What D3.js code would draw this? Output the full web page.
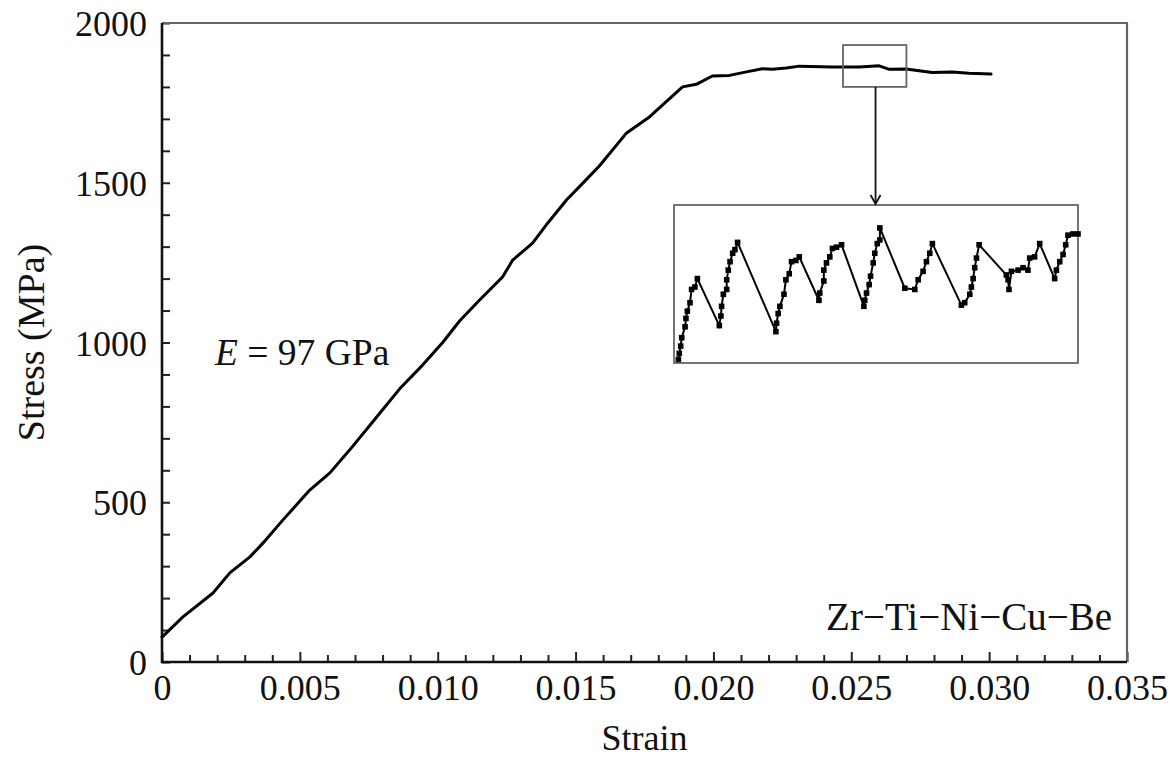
<!DOCTYPE html>
<html>
<head>
<meta charset="utf-8">
<script src="https://cdn.jsdelivr.net/npm/d3@7/dist/d3.min.js"></script>
<style>
  html, body { margin: 0; padding: 0; background: #fff; }
  svg { display: block; }
  text { font-family: "Liberation Serif", "Times New Roman", serif; fill: #111; }
</style>
</head>
<body>
<svg id="chart" width="1174" height="760"></svg>
<script>
// ---- Data ----
const strain = [0, 0.00076, 0.00185, 0.00246, 0.00319, 0.00366, 0.00438, 0.00536, 0.00609, 0.00681,
  0.00772, 0.00862, 0.00946, 0.01018, 0.0108, 0.01152, 0.01235, 0.01272, 0.01344, 0.01400, 0.01467,
  0.01530, 0.01587, 0.01685, 0.01768, 0.01888, 0.01938, 0.01996, 0.02058, 0.0212, 0.02177, 0.02214,
  0.02264, 0.02312, 0.02431, 0.02529, 0.02601, 0.02638, 0.02699, 0.02793, 0.02866, 0.02927, 0.03007];
const stress = [78, 141, 216, 279, 329, 372, 444, 538, 592, 664,
  760, 855, 930, 1000, 1068, 1133, 1205, 1258, 1311, 1375, 1446,
  1502, 1553, 1656, 1706, 1800, 1808, 1834, 1836, 1847, 1857, 1855,
  1859, 1865, 1862, 1862, 1866, 1855, 1856, 1845, 1847, 1843, 1840];

// Inset (magnified serrated flow, box region)
const insetStrain = [0.024725, 0.02473, 0.024738, 0.024744, 0.024763, 0.024768, 0.024776, 0.024791, 0.0248, 0.024819, 0.024833,
  0.024958, 0.024967, 0.024971, 0.024981, 0.025, 0.025, 0.025009, 0.025019, 0.025034, 0.025047, 0.025062,
  0.02528, 0.025284, 0.025293, 0.025303, 0.025326, 0.025337, 0.025356, 0.025369, 0.025394, 0.025413,
  0.025525, 0.02553, 0.025553, 0.025553, 0.025568, 0.025587, 0.025602, 0.025625, 0.025654,
  0.025781, 0.025786, 0.025796, 0.025811, 0.025819, 0.025834, 0.025843, 0.025857, 0.025872, 0.025872,
  0.026014, 0.026071, 0.02609, 0.026118, 0.026137, 0.026156, 0.026171,
  0.026336, 0.026355, 0.026384, 0.026393, 0.026403, 0.026412, 0.026422, 0.026437,
  0.026592, 0.026602, 0.026607, 0.026621, 0.026659, 0.026687, 0.026715, 0.026725, 0.026753, 0.026782,
  0.026867, 0.026877, 0.026896, 0.026915, 0.02693, 0.026943, 0.026971, 0.027];
const insetStress = [1803, 1808, 1814, 1821, 1830, 1837, 1843, 1850, 1861, 1863, 1870,
  1831, 1839, 1847, 1857, 1861, 1869, 1877, 1884, 1891, 1894, 1900,
  1826, 1833, 1841, 1847, 1857, 1869, 1874, 1884, 1885, 1888,
  1852, 1858, 1868, 1877, 1883, 1888, 1895, 1896, 1898,
  1847, 1852, 1858, 1865, 1872, 1883, 1891, 1899, 1902, 1912,
  1862, 1861, 1869, 1876, 1884, 1891, 1899,
  1848, 1850, 1857, 1863, 1870, 1879, 1887, 1898,
  1873, 1869, 1861, 1876, 1877, 1879, 1877, 1887, 1888, 1899,
  1870, 1877, 1884, 1890, 1898, 1906, 1907, 1907];

const boxStrain = [0.0247, 0.0270];
const boxStress = [1800, 1931];
const arrowStrain = 0.02588;

const xMajor = [0, 0.005, 0.010, 0.015, 0.020, 0.025, 0.030, 0.035];
const xMajorLabels = ["0", "0.005", "0.010", "0.015", "0.020", "0.025", "0.030", "0.035"];
const xMinor = [0.001,0.002,0.003,0.004,0.006,0.007,0.008,0.009,0.011,0.012,0.013,0.014,0.016,0.017,0.018,0.019,0.021,0.022,0.023,0.024,0.026,0.027,0.028,0.029,0.031,0.032,0.033,0.034];
const yMajor = [0, 500, 1000, 1500, 2000];
const yMajorLabels = ["0", "500", "1000", "1500", "2000"];
const yMinor = [100,200,300,400,600,700,800,900,1100,1200,1300,1400,1600,1700,1800,1900];

// ---- Layout ----
const L = 162, R = 1127, T = 23, B = 662;
const svg = d3.select("#chart");
const x = d3.scaleLinear().domain([0, 0.035]).range([L, R]);
const y = d3.scaleLinear().domain([0, 2000]).range([B, T]);

// minor ticks
svg.append("g").attr("transform", `translate(0,${B})`)
  .call(d3.axisBottom(x).tickValues(xMinor).tickSize(-7).tickFormat(""))
  .call(g => g.select(".domain").remove())
  .call(g => g.selectAll("line").attr("stroke", "#222").attr("stroke-width", 2));
svg.append("g").attr("transform", `translate(${L},0)`)
  .call(d3.axisLeft(y).tickValues(yMinor).tickSize(-8).tickFormat(""))
  .call(g => g.select(".domain").remove())
  .call(g => g.selectAll("line").attr("stroke", "#222").attr("stroke-width", 2));

// major ticks with labels
svg.append("g").attr("transform", `translate(0,${B})`)
  .call(d3.axisBottom(x).tickValues(xMajor).tickSize(-10).tickPadding(14)
    .tickFormat((d, i) => xMajorLabels[i]))
  .call(g => g.select(".domain").remove())
  .call(g => g.selectAll("line").attr("stroke", "#222").attr("stroke-width", 2))
  .call(g => g.selectAll("text").attr("font-size", 36).attr("fill", "#111")
    .attr("font-family", "Liberation Serif, serif").attr("y", 38).attr("dy", 0));
svg.append("g").attr("transform", `translate(${L},0)`)
  .call(d3.axisLeft(y).tickValues(yMajor).tickSize(-8).tickPadding(15)
    .tickFormat((d, i) => yMajorLabels[i]))
  .call(g => g.select(".domain").remove())
  .call(g => g.selectAll("line").attr("stroke", "#222").attr("stroke-width", 2))
  .call(g => g.selectAll("text").attr("font-size", 36).attr("fill", "#111")
    .attr("font-family", "Liberation Serif, serif").attr("dy", "0.35em"));

// frame
svg.append("path").attr("d", `M${L},${T}H${R}V${B}`).attr("fill", "none")
  .attr("stroke", "#666").attr("stroke-width", 2.2);
svg.append("path").attr("d", `M${L},${T}V${B}H${R}`).attr("fill", "none")
  .attr("stroke", "#111").attr("stroke-width", 2.6);

// main curve
const pts = strain.map((s, i) => [s, stress[i]]);
svg.append("path").datum(pts)
  .attr("d", d3.line().x(d => x(d[0])).y(d => y(d[1])))
  .attr("fill", "none").attr("stroke", "#000").attr("stroke-width", 3)
  .attr("stroke-linejoin", "round").attr("stroke-linecap", "round");

// small box
svg.append("rect")
  .attr("x", x(boxStrain[0])).attr("y", y(boxStress[1]))
  .attr("width", x(boxStrain[1]) - x(boxStrain[0]))
  .attr("height", y(boxStress[0]) - y(boxStress[1]))
  .attr("fill", "none").attr("stroke", "#666").attr("stroke-width", 1.8);

// inset
const iL = 674, iR = 1078, iT = 205, iB = 363;
const ix = d3.scaleLinear().domain(boxStrain).range([iL, iR]);
const iy = d3.scaleLinear().domain(boxStress).range([iB, iT]);
svg.append("rect").attr("x", iL).attr("y", iT).attr("width", iR - iL).attr("height", iB - iT)
  .attr("fill", "#fff").attr("stroke", "#666").attr("stroke-width", 1.8);

// arrow
const ax = x(arrowStrain);
svg.append("line").attr("x1", ax).attr("x2", ax).attr("y1", y(boxStress[0])).attr("y2", iT - 1)
  .attr("stroke", "#111").attr("stroke-width", 1.8);
svg.append("path").attr("d", `M${ax - 5},${iT - 10}L${ax},${iT - 1}L${ax + 5},${iT - 10}`)
  .attr("fill", "none").attr("stroke", "#111").attr("stroke-width", 1.8);

const ipts = insetStrain.map((s, i) => [s, insetStress[i]]);
svg.append("path").datum(ipts)
  .attr("d", d3.line().x(d => ix(d[0])).y(d => iy(d[1])))
  .attr("fill", "none").attr("stroke", "#000").attr("stroke-width", 2);
svg.append("g").selectAll("rect").data(ipts).join("rect")
  .attr("x", d => ix(d[0]) - 2.8).attr("y", d => iy(d[1]) - 2.8)
  .attr("width", 5.6).attr("height", 5.6).attr("fill", "#000");

// annotations
svg.append("text").attr("x", 215).attr("y", 365).attr("font-size", 37.5)
  .html('<tspan font-style="italic">E</tspan> = 97 GPa');
svg.append("text").attr("x", 1112).attr("y", 630).attr("font-size", 39)
  .attr("text-anchor", "end").text("Zr\u2212Ti\u2212Ni\u2212Cu\u2212Be");

// axis titles
svg.append("text").attr("x", (L + R) / 2).attr("y", 750).attr("text-anchor", "middle")
  .attr("font-size", 36).text("Strain");
svg.append("text").attr("transform", `translate(44,${(T + B) / 2}) rotate(-90)`)
  .attr("text-anchor", "middle").attr("font-size", 38).text("Stress (MPa)");
</script>
</body>
</html>
